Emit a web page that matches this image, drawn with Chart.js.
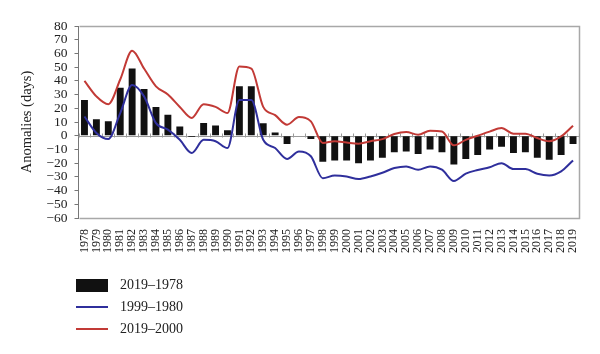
<!DOCTYPE html>
<html>
<head>
<meta charset="utf-8">
<script src="https://cdn.jsdelivr.net/npm/chart.js@4"></script>
<style>
  html, body { margin: 0; padding: 0; background: #fff; }
  #wrap { position: relative; width: 600px; height: 354px; }
  #legend { position: absolute; left: 76px; top: 274px; font-family: 'Liberation Serif', serif; font-size: 14px; color: #222; }
  #legend .row { display: flex; align-items: center; height: 22px; }
  #legend .sw { width: 32px; margin-right: 12px; }
</style>
</head>
<body>
<div id="wrap">
  <canvas id="chart" width="600" height="354"></canvas>
  <div id="legend"></div>
</div>
<script>
const years = ['1978', '1979', '1980', '1981', '1982', '1983', '1984', '1985', '1986', '1987',
  '1988', '1989', '1990', '1991', '1992', '1993', '1994', '1995', '1996', '1997',
  '1998', '1999', '2000', '2001', '2002', '2003', '2004', '2005', '2006', '2007',
  '2008', '2009', '2010', '2011', '2012', '2013', '2014', '2015', '2016', '2017',
  '2018', '2019'];

// bars: 2019-1978
const anomalyAll = [26, 12, 10.5, 35, 49, 34, 21, 15.3, 6.8, -1,
  9.2, 7.5, 4, 36, 36, 9, 2.4, -6, 0, -2.4,
  -19, -18, -18, -20, -18, -16, -12, -11.5, -13.4, -10,
  -12, -21, -17, -14, -10, -8, -12.6, -12, -16, -17.5,
  -14, -6];

// blue line: 1999-1980
const anomaly1980 = [14, 2, -2.4, 16.5, 37, 28.7, 9.2, 4.4, -3, -12.6,
  -3, -4, -9, 26, 26, -3, -9, -17, -11.5, -15,
  -31, -29, -29.7, -31.6, -29.7, -27, -23.6, -22.4, -24.8, -22.4,
  -24.8, -33, -27.7, -25, -23, -20, -24.3, -24.3, -27.7, -29,
  -26, -18];

// red line: 2019-2000
const anomaly2000 = [40, 28.7, 23, 41, 62, 49, 36, 30, 21, 13,
  23, 21, 16.5, 50.5, 49, 21, 15, 8, 13.6, 10.5,
  -5.3, -4, -5, -5.8, -4, -2.5, 1.2, 2.7, 0.7, 3.6,
  3, -7, -3, 0, 3, 5.6, 1.5, 1.5, -1.7, -4,
  -0.5, 7.3];

const yTicks = { min: -60, max: 80, step: 10 };

const serif = "'Liberation Serif', 'Times New Roman', serif";

// plot frame, zero line and small category ticks on it
const frame = {
  id: 'frame',
  beforeDatasetsDraw(chart) {
    const { ctx, chartArea, scales } = chart;
    const l = Math.round(chartArea.left) + 0.5;
    const t = Math.round(chartArea.top) + 0.5;
    const r = Math.round(chartArea.right) + 0.5;
    const b = Math.round(chartArea.bottom) + 0.5;
    ctx.save();
    ctx.strokeStyle = '#a8a8a8';
    ctx.lineWidth = 1.5;
    ctx.beginPath();
    ctx.moveTo(l, t);
    ctx.lineTo(r, t);
    ctx.lineTo(r, b);
    ctx.lineTo(l, b);
    ctx.stroke();

    const y0 = Math.round(scales.y.getPixelForValue(0)) + 0.5;
    const half = (scales.x.getPixelForValue(1) - scales.x.getPixelForValue(0)) / 2;
    ctx.strokeStyle = '#9a9a9a';
    ctx.lineWidth = 1;
    ctx.beginPath();
    ctx.moveTo(chartArea.left, y0);
    ctx.lineTo(chartArea.right, y0);
    for (let i = 0; i <= years.length; i++) {
      const x = Math.round(scales.x.getPixelForValue(i) - half) + 0.5;
      ctx.moveTo(x, y0 - 3);
      ctx.lineTo(x, y0 + 1);
    }
    ctx.stroke();
    ctx.restore();
  }
};

const chart = new Chart(document.getElementById('chart'), {
  data: {
    labels: years,
    datasets: [{
      type: 'bar',
      label: '2019\u20131978',
      data: anomalyAll,
      backgroundColor: '#111111',
      barPercentage: 0.58,
      categoryPercentage: 1,
      order: 3
    }, {
      type: 'line',
      label: '1999\u20131980',
      data: anomaly1980,
      borderColor: '#2f2f9c',
      borderWidth: 2,
      pointRadius: 0,
      tension: 0.4,
      cubicInterpolationMode: 'monotone',
      order: 1
    }, {
      type: 'line',
      label: '2019\u20132000',
      data: anomaly2000,
      borderColor: '#c23a36',
      borderWidth: 2,
      pointRadius: 0,
      tension: 0.4,
      cubicInterpolationMode: 'monotone',
      order: 2
    }]
  },
  options: {
    responsive: false,
    animation: false,
    layout: { padding: { top: 26, right: 21, left: 14, bottom: 98 } },
    plugins: {
      legend: { display: false },
      tooltip: { enabled: false }
    },
    scales: {
      x: {
        grid: { display: false },
        border: { display: false },
        ticks: {
          autoSkip: false,
          minRotation: 90,
          maxRotation: 90,
          padding: 3,
          color: '#222',
          font: { family: serif, size: 12 }
        }
      },
      y: {
        min: yTicks.min,
        max: yTicks.max,
        ticks: {
          stepSize: yTicks.step,
          autoSkip: false,
          color: '#222',
          padding: 7,
          font: { family: serif, size: 13.5 },
          callback: v => String(v).replace('-', '\u2212')
        },
        border: { color: '#777' },
        grid: {
          color: 'rgba(0,0,0,0)',
          tickColor: '#777',
          tickLength: 4
        },
        title: {
          display: true,
          text: 'Anomalies (days)',
          color: '#222',
          padding: 4,
          font: { family: serif, size: 14.5 }
        }
      }
    }
  },
  plugins: [frame]
});

const legendEl = document.getElementById('legend');
chart.data.datasets.forEach(ds => {
  const row = document.createElement('div');
  row.className = 'row';
  const sw = document.createElement('div');
  sw.className = 'sw';
  if (ds.type === 'bar') {
    sw.style.height = '13px';
    sw.style.background = ds.backgroundColor;
  } else {
    sw.style.height = '2px';
    sw.style.background = ds.borderColor;
  }
  const txt = document.createElement('span');
  txt.textContent = ds.label;
  row.appendChild(sw);
  row.appendChild(txt);
  legendEl.appendChild(row);
});
</script>
</body>
</html>
